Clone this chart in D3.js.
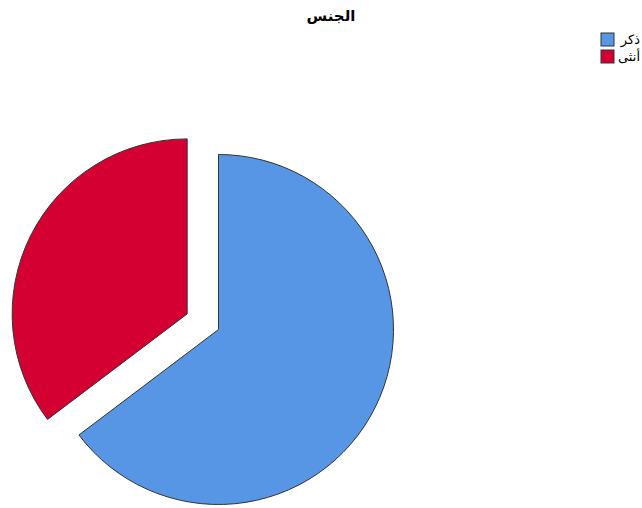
<!DOCTYPE html>
<html>
<head>
<meta charset="utf-8">
<script src="https://cdn.jsdelivr.net/npm/d3@7"></script>
<style>
  html, body { margin: 0; padding: 0; background: #fff; }
  svg { display: block; }
  text { font-family: "DejaVu Sans", "Noto Sans", sans-serif; }
</style>
</head>
<body>
<svg id="chart" width="642" height="508"></svg>
<script>
// Gender distribution (percent)
const categories = ["ذكر", "أنثى"];
const values = [64.7, 35.3];
const colors = ["#5795E5", "#D40031"];
const title = "الجنس";

const svg = d3.select("#chart");
const cx = 218.5, cy = 329.5, radius = 175, explode = 35;

const pie = d3.pie().sort(null).value(d => d.value);
const arcs = pie(categories.map((c, i) => ({ name: c, value: values[i] })));
const arc = d3.arc().innerRadius(0).outerRadius(radius);
const color = d3.scaleOrdinal().domain(categories).range(colors);

const g = svg.append("g").attr("transform", `translate(${cx},${cy})`);
g.selectAll("path")
  .data(arcs)
  .join("path")
  .attr("transform", (d, i) => {
    if (i === 0) return null;
    const mid = (d.startAngle + d.endAngle) / 2;
    return `translate(${explode * Math.sin(mid)},${-explode * Math.cos(mid)})`;
  })
  .attr("d", arc)
  .attr("fill", d => color(d.data.name))
  .attr("stroke", "#333")
  .attr("stroke-width", 1)
  .attr("stroke-linejoin", "miter");

// Title
svg.append("text")
  .attr("x", 331)
  .attr("y", 21)
  .attr("text-anchor", "middle")
  .attr("font-size", 15)
  .attr("font-weight", "bold")
  .attr("fill", "#000")
  .text(title);

// Legend
const legend = svg.append("g");
const items = legend.selectAll("g")
  .data(categories)
  .join("g")
  .attr("transform", (d, i) => `translate(601,${33 + i * 17})`);
items.append("rect")
  .attr("width", 13)
  .attr("height", 13)
  .attr("fill", d => color(d))
  .attr("stroke", "#333")
  .attr("stroke-width", 1);
items.append("text")
  .attr("x", 39)
  .attr("y", 11)
  .attr("text-anchor", "end")
  .attr("font-size", 13)
  .attr("fill", "#000")
  .text(d => d);
</script>
</body>
</html>
